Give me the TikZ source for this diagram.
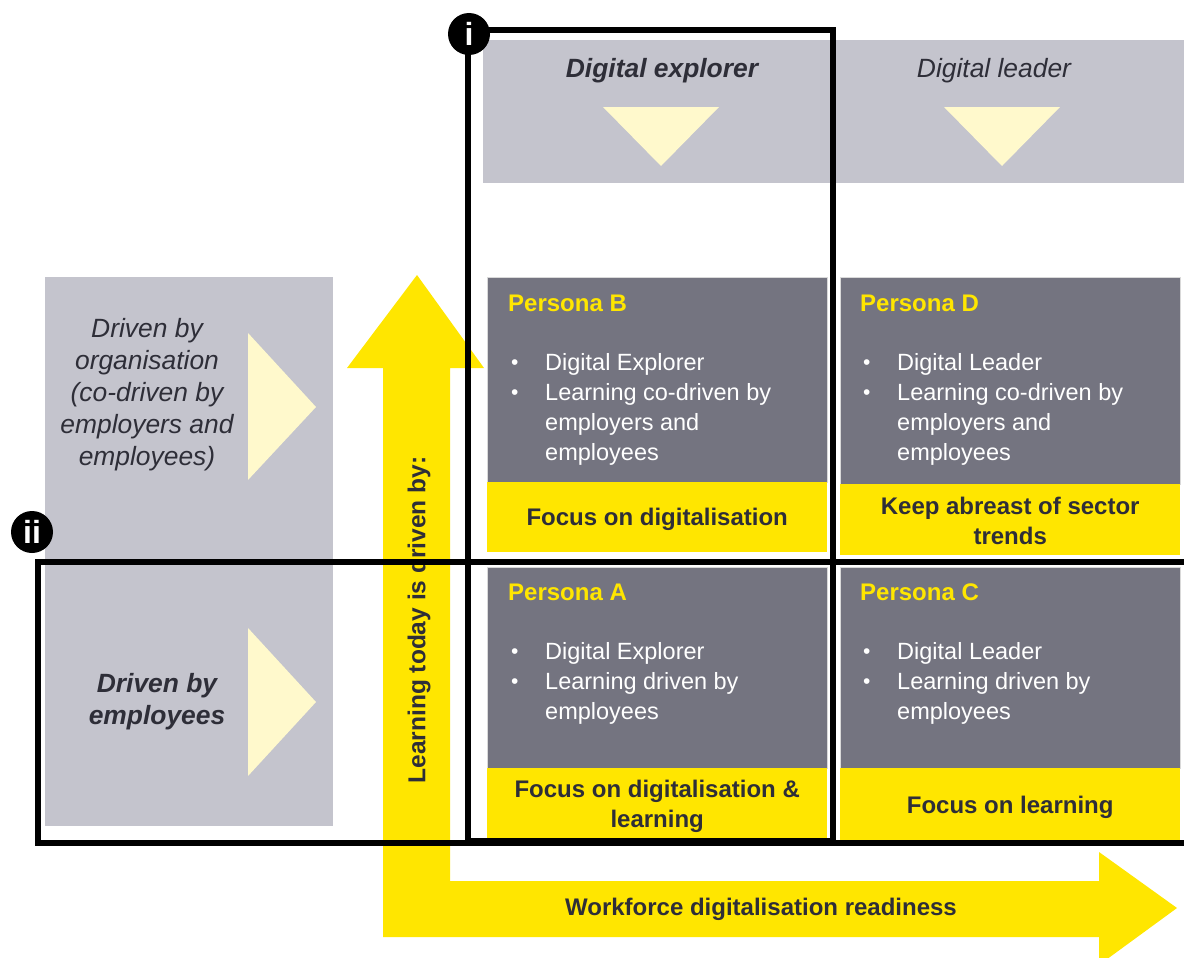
\documentclass[tikz,border=0pt]{standalone}
\usepackage{fontspec}
\setmainfont{Liberation Sans}
\usetikzlibrary{calc}
\definecolor{lgray}{RGB}{196,196,205}
\definecolor{dgray}{RGB}{116,116,128}
\definecolor{eyy}{RGB}{255,230,0}
\definecolor{pale}{RGB}{255,249,204}
\definecolor{ink}{RGB}{46,46,56}
\newcommand{\bul}{\makebox[34pt][l]{\raisebox{1pt}{\fontsize{21}{21}\selectfont •}}}
\newcommand{\ind}{\hspace*{34pt}}
\begin{document}
\begin{tikzpicture}[x=1pt,y=-1pt,
  lbox/.style={fill=lgray,draw=none,inner sep=0,anchor=north west},
  gbox/.style={fill=dgray,draw=black!15,line width=0.8pt,inner sep=0,anchor=north west},
  ybox/.style={fill=eyy,draw=none,inner sep=0,align=center,text=ink,
    font=\bfseries\fontsize{24}{30}\selectfont},
  phead/.style={anchor=base west,inner sep=0,text=eyy,font=\bfseries\fontsize{24}{30}\selectfont},
  plist/.style={anchor=base west,inner sep=0,text=white},
  toplbl/.style={text=ink,font=\fontsize{26.4}{32}\selectfont,inner sep=0},
  sidelbl/.style={text=ink,align=center,font=\itshape\fontsize{26.4}{32}\selectfont,inner sep=0},
  frame/.style={draw=black,line width=5.5pt},
  badge/.style={circle,fill=black,text=white,minimum size=42pt,inner sep=0,
    font=\bfseries\fontsize{32}{32}\selectfont}
]
\useasboundingbox (0,0) rectangle (1184,958);
\clip (0,0) rectangle (1184,958);

% top header boxes
\node[lbox,minimum width=350pt,minimum height=143pt] (explorer) at (483,40) {};
\node[lbox,minimum width=351pt,minimum height=143pt] (leader) at (833,40) {};
\node[toplbl,font=\bfseries\itshape\fontsize{26.4}{32}\selectfont] (explorerlbl) at (662,71) {Digital explorer};
\node[toplbl,font=\itshape\fontsize{26.4}{32}\selectfont] (leaderlbl) at (994,71) {Digital leader};
\fill[pale] (603,107) -- (719,107) -- (661,166) -- cycle;
\fill[pale] (944,107) -- (1060,107) -- (1002,166) -- cycle;

% left boxes
\node[lbox,minimum width=288pt,minimum height=284pt] (org) at (45,277) {};
\node[lbox,minimum width=288pt,minimum height=264pt] (emp) at (45,562) {};
\fill[pale] (248,333) -- (316,407) -- (248,480) -- cycle;
\fill[pale] (248,628) -- (316,702) -- (248,776) -- cycle;
\node[sidelbl] (orglbl) at (147,395) {Driven by\\organisation\\(co-driven by\\employers and\\employees)};
\node[sidelbl,font=\bfseries\itshape\fontsize{26.4}{32}\selectfont] (emplbl) at (157,702) {Driven by\\employees};

% L-shaped axis arrow
\fill[eyy] (383,368) -- (347,368) -- (417,275) -- (484,368) -- (450,368)
  -- (450,881) -- (1099,881) -- (1099,852) -- (1177,908) -- (1099,965)
  -- (1099,937) -- (383,937) -- cycle;
\node[rotate=90,text=ink,inner sep=0,font=\bfseries\fontsize{24.5}{30}\selectfont] (ylbl) at (419,620) {Learning today is driven by:};
\node[text=ink,inner sep=0,font=\bfseries\fontsize{24}{30}\selectfont] (xlbl) at (761,909) {Workforce digitalisation readiness};

% Persona B
\node[gbox,minimum width=340pt,minimum height=205pt] (pB) at (487,277) {};
\node[ybox,minimum width=340pt,minimum height=70pt,anchor=north west] (fB) at (487,482) {};
\node[ybox,fill=none] (fBt) at ($(fB.center)+(0,2)$) {Focus on digitalisation};
\node[phead] (hB) at (508,311) {Persona B};
\node[plist] (lB) at (511,370) {\parbox[t]{310pt}{\fontsize{23.5}{30}\selectfont\raggedright
  \bul Digital Explorer\\\bul Learning co-driven by\\\ind employers and\\\ind employees}};

% Persona D
\node[gbox,minimum width=340pt,minimum height=207pt] (pD) at (840,277) {};
\node[ybox,minimum width=340pt,minimum height=71pt,anchor=north west] (fD) at (840,484) {};
\node[ybox,fill=none] (fDt) at ($(fD.center)+(0,1)$) {Keep abreast of sector\\trends};
\node[phead] (hD) at (860,311) {Persona D};
\node[plist] (lD) at (863,370) {\parbox[t]{310pt}{\fontsize{23.5}{30}\selectfont\raggedright
  \bul Digital Leader\\\bul Learning co-driven by\\\ind employers and\\\ind employees}};

% Persona A
\node[gbox,minimum width=340pt,minimum height=201pt] (pA) at (487,567) {};
\node[ybox,minimum width=340pt,minimum height=70pt,anchor=north west] (fA) at (487,768) {};
\node[ybox,fill=none] (fAt) at ($(fA.center)+(0,3)$) {Focus on digitalisation \&\\learning};
\node[phead] (hA) at (508,600) {Persona A};
\node[plist] (lA) at (511,659) {\parbox[t]{310pt}{\fontsize{23.5}{30}\selectfont\raggedright
  \bul Digital Explorer\\\bul Learning driven by\\\ind employees}};

% Persona C
\node[gbox,minimum width=340pt,minimum height=201pt] (pC) at (840,567) {};
\node[ybox,minimum width=340pt,minimum height=72pt,anchor=north west] (fC) at (840,768) {};
\node[ybox,fill=none] (fCt) at ($(fC.center)+(0,3)$) {Focus on learning};
\node[phead] (hC) at (860,600) {Persona C};
\node[plist] (lC) at (863,659) {\parbox[t]{310pt}{\fontsize{23.5}{30}\selectfont\raggedright
  \bul Digital Leader\\\bul Learning driven by\\\ind employees}};

% highlight frames
\draw[frame] (468,30) rectangle (833,841);
\draw[frame] (38,562) rectangle (1200,843);
\node[badge] (bi) at (469,34) {i};
\node[badge] (bii) at (32,532) {ii};
\end{tikzpicture}
\end{document}
